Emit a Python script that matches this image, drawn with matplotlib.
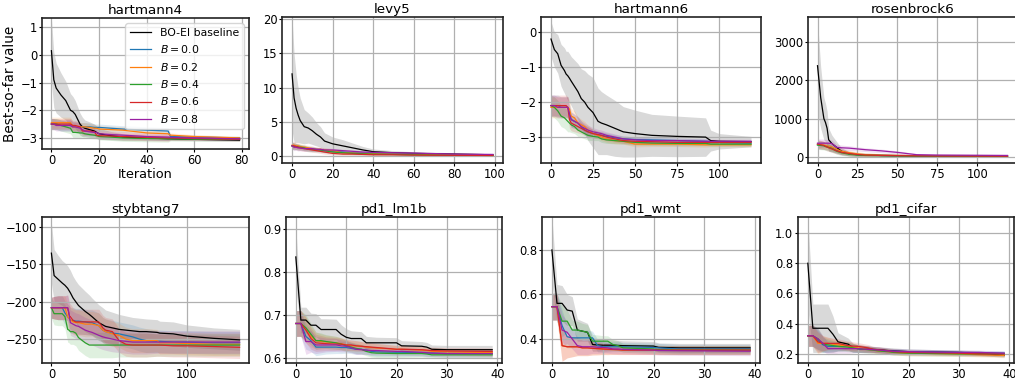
import matplotlib

matplotlib.use("Agg")
import matplotlib.pyplot as plt
import numpy as np

# --- data (mean and half-width of band at knot iterations) ---
B_LABELS = ["$B = 0.0$", "$B = 0.2$", "$B = 0.4$", "$B = 0.6$", "$B = 0.8$"]
B_COLORS = ["tab:blue", "tab:orange", "tab:green", "tab:red", "#9a1fa3"]

HARTMANN4_X = [0, 1, 2, 4, 6, 8, 9, 10, 12, 13, 14, 16, 18, 19, 20, 25, 30, 40, 49, 50, 60, 79]
HARTMANN4_BASE = [0.15, -0.9, -1.2, -1.45, -1.65, -2.0, -2.05, -2.15, -2.5, -2.6, -2.65, -2.7,
                  -2.75, -2.8, -2.85, -2.92, -2.97, -3.0, -3.03, -3.03, -3.05, -3.08]
HARTMANN4_BASE_SD = [1.15, 1.0, 0.9, 0.8, 0.7, 0.6, 0.55, 0.5, 0.4, 0.35, 0.3, 0.28, 0.25, 0.22,
                     0.2, 0.15, 0.12, 0.08, 0.06, 0.06, 0.05, 0.04]
HARTMANN4_B = [
    [-2.5, -2.5, -2.5, -2.55, -2.55, -2.55, -2.6, -2.6, -2.6, -2.6, -2.6, -2.6, -2.62, -2.62,
     -2.62, -2.65, -2.68, -2.72, -2.75, -2.95, -2.97, -3.0],
    [-2.45, -2.45, -2.45, -2.45, -2.45, -2.45, -2.6, -2.6, -2.6, -2.6, -2.6, -2.62, -2.65, -2.65,
     -2.68, -2.7, -2.72, -2.82, -2.85, -2.9, -2.95, -3.0],
    [-2.5, -2.5, -2.5, -2.55, -2.6, -2.65, -2.8, -2.8, -2.82, -2.82, -2.85, -2.88, -2.9, -2.92,
     -2.95, -2.97, -3.0, -3.02, -3.03, -3.03, -3.05, -3.05],
    [-2.5, -2.5, -2.5, -2.5, -2.5, -2.5, -2.55, -2.55, -2.6, -2.75, -2.75, -2.75, -2.78, -2.9,
     -2.92, -2.93, -2.95, -2.98, -3.0, -3.0, -3.02, -3.05],
    [-2.5, -2.5, -2.55, -2.55, -2.55, -2.55, -2.6, -2.6, -2.65, -2.7, -2.75, -2.78, -2.8, -2.8,
     -2.85, -2.88, -2.9, -2.95, -2.97, -2.98, -3.0, -3.03],
]
HARTMANN4_B_SD = [0.2, 0.2, 0.2, 0.2, 0.2, 0.2, 0.18, 0.18, 0.16, 0.15, 0.15, 0.14, 0.13, 0.12,
                  0.12, 0.12, 0.12, 0.12, 0.12, 0.08, 0.07, 0.06]

LEVY5_X = [0, 1, 2, 3, 4, 6, 8, 10, 12, 14, 16, 20, 25, 30, 35, 40, 50, 60, 80, 99]
LEVY5_BASE = [12, 8.5, 7, 6, 5.2, 4.3, 4.1, 3.7, 3.2, 2.8, 2.2, 1.8, 1.5, 1.2, 0.9, 0.65, 0.5,
              0.4, 0.3, 0.2]
LEVY5_BASE_SD = [8.3, 6.5, 5, 4, 3.3, 2.5, 2.2, 2.0, 1.7, 1.5, 1.2, 1.0, 0.9, 0.7, 0.5, 0.4,
                 0.3, 0.25, 0.2, 0.15]
LEVY5_B = [
    [1.5, 1.5, 1.4, 1.4, 1.3, 1.2, 1.1, 1.0, 1.0, 0.9, 0.8, 0.7, 0.6, 0.5, 0.45, 0.4, 0.35, 0.3, 0.2, 0.15],
    [1.6, 1.6, 1.5, 1.5, 1.4, 1.3, 1.2, 1.1, 1.0, 1.0, 0.9, 0.8, 0.5, 0.45, 0.4, 0.35, 0.3, 0.25, 0.2, 0.15],
    [1.5, 1.4, 1.4, 1.3, 1.3, 1.2, 1.0, 1.0, 0.9, 0.9, 0.8, 0.6, 0.5, 0.4, 0.35, 0.3, 0.25, 0.2, 0.15, 0.1],
    [1.5, 1.5, 1.4, 1.3, 1.2, 1.1, 1.0, 0.9, 0.8, 0.7, 0.6, 0.4, 0.3, 0.3, 0.25, 0.2, 0.2, 0.15, 0.12, 0.1],
    [1.5, 1.3, 1.3, 1.2, 1.2, 1.1, 1.1, 1.1, 1.0, 1.0, 0.9, 0.9, 0.8, 0.7, 0.6, 0.55, 0.5, 0.45, 0.3, 0.25],
]
LEVY5_B_SD = [0.5, 0.5, 0.45, 0.45, 0.4, 0.4, 0.35, 0.35, 0.3, 0.3, 0.3, 0.25, 0.2, 0.2, 0.18,
              0.15, 0.12, 0.1, 0.1, 0.08]

HARTMANN6_X = [0, 2, 4, 6, 8, 9, 10, 11, 12, 14, 16, 18, 20, 22, 25, 28, 30, 33, 38, 43, 50,
               60, 75, 92, 95, 100, 119]
HARTMANN6_BASE = [-0.2, -0.5, -0.62, -0.95, -1.1, -1.2, -1.25, -1.32, -1.4, -1.55, -1.7, -1.9,
                  -2.0, -2.15, -2.3, -2.55, -2.6, -2.65, -2.75, -2.85, -2.9, -2.95, -2.98, -3.0,
                  -3.1, -3.12, -3.13]
HARTMANN6_BASE_SD = [0.5, 0.5, 0.55, 0.6, 0.65, 0.65, 0.7, 0.7, 0.7, 0.75, 0.8, 0.85, 0.9, 0.95,
                     1.0, 0.95, 0.9, 0.85, 0.8, 0.72, 0.67, 0.6, 0.58, 0.55, 0.3, 0.22, 0.15]
HARTMANN6_B = [
    [-2.1, -2.1, -2.1, -2.15, -2.15, -2.15, -2.15, -2.3, -2.5, -2.55, -2.6, -2.7, -2.8, -2.85,
     -2.9, -2.93, -2.95, -2.98, -3.02, -3.05, -3.07, -3.08, -3.1, -3.12, -3.13, -3.15, -3.17],
    [-2.15, -2.15, -2.15, -2.15, -2.15, -2.15, -2.15, -2.2, -2.4, -2.45, -2.6, -2.65, -2.7, -2.8,
     -2.9, -2.95, -3.0, -3.05, -3.1, -3.12, -3.2, -3.2, -3.2, -3.22, -3.22, -3.22, -3.22],
    [-2.1, -2.15, -2.25, -2.4, -2.45, -2.5, -2.55, -2.6, -2.65, -2.7, -2.8, -2.85, -2.9, -2.95,
     -2.98, -3.0, -3.05, -3.08, -3.1, -3.12, -3.15, -3.17, -3.18, -3.18, -3.2, -3.2, -3.2],
    [-2.1, -2.1, -2.1, -2.1, -2.1, -2.1, -2.15, -2.5, -2.6, -2.65, -2.7, -2.75, -2.8, -2.85,
     -2.9, -2.93, -2.95, -3.0, -3.05, -3.1, -3.12, -3.13, -3.15, -3.15, -3.15, -3.15, -3.15],
    [-2.1, -2.1, -2.15, -2.15, -2.15, -2.15, -2.15, -2.35, -2.5, -2.55, -2.6, -2.7, -2.75, -2.8,
     -2.85, -2.88, -2.9, -2.95, -3.0, -3.05, -3.08, -3.1, -3.1, -3.12, -3.12, -3.12, -3.12],
]
HARTMANN6_B_SD = [0.3, 0.3, 0.3, 0.3, 0.3, 0.3, 0.3, 0.25, 0.22, 0.2, 0.18, 0.16, 0.15, 0.14,
                  0.12, 0.1, 0.1, 0.1, 0.09, 0.08, 0.08, 0.07, 0.07, 0.07, 0.06, 0.06, 0.06]

ROSENBROCK6_X = [0, 2, 4, 5, 6, 7, 9, 12, 15, 20, 25, 30, 40, 50, 62, 75, 100, 119]
ROSENBROCK6_BASE = [2380, 1550, 1000, 900, 750, 450, 350, 250, 150, 80, 60, 50, 40, 35, 30, 28, 25, 22]
ROSENBROCK6_BASE_SD = [1200, 800, 550, 500, 450, 300, 220, 150, 90, 50, 35, 25, 20, 18, 15, 12, 10, 8]
ROSENBROCK6_B = [
    [320, 310, 300, 290, 280, 260, 240, 180, 130, 90, 60, 50, 40, 35, 30, 25, 20, 18],
    [330, 320, 310, 300, 290, 280, 260, 200, 150, 110, 80, 60, 45, 40, 35, 30, 25, 20],
    [310, 300, 290, 270, 260, 250, 220, 150, 110, 70, 50, 40, 35, 30, 25, 22, 20, 18],
    [340, 320, 300, 280, 260, 240, 210, 160, 120, 90, 65, 50, 40, 35, 30, 25, 22, 20],
    [360, 360, 360, 360, 360, 360, 350, 250, 240, 230, 210, 190, 160, 120, 60, 50, 45, 40],
]
ROSENBROCK6_B_SD = [110, 110, 105, 100, 100, 95, 90, 80, 70, 60, 55, 50, 45, 40, 30, 25, 20, 15]

STYBTANG7_X = [0, 2, 5, 8, 10, 12, 13, 14, 16, 18, 20, 25, 28, 30, 35, 38, 40, 45, 50, 55, 60,
               65, 70, 78, 80, 90, 100, 120, 139]
STYBTANG7_BASE = [-135, -165, -170, -175, -178, -182, -185, -188, -195, -200, -205, -213, -217,
                  -220, -228, -231, -233, -235, -237, -238, -239, -240, -240, -241, -242, -243,
                  -246, -249, -251]
STYBTANG7_BASE_SD = [40, 35, 32, 30, 30, 30, 30, 30, 29, 28, 28, 27, 26, 25, 24, 23, 22, 21, 20,
                     19, 18, 18, 17, 17, 16, 16, 15, 14, 14]
STYBTANG7_B = [
    [-208, -208, -208, -208, -215, -220, -222, -225, -225, -226, -226, -227, -228, -228, -232,
     -238, -240, -242, -243, -245, -247, -250, -252, -253, -253, -254, -254, -255, -255],
    [-208, -208, -208, -208, -208, -220, -222, -224, -227, -228, -228, -230, -230, -230, -232,
     -238, -240, -243, -245, -250, -252, -252, -252, -252, -255, -255, -256, -257, -257],
    [-208, -216, -216, -216, -220, -237, -238, -240, -240, -242, -248, -255, -258, -258, -258,
     -258, -258, -258, -258, -258, -258, -258, -258, -258, -258, -258, -258, -258, -258],
    [-208, -208, -208, -208, -208, -208, -218, -220, -225, -227, -227, -227, -227, -227, -227,
     -235, -238, -240, -252, -257, -258, -258, -258, -258, -258, -259, -259, -260, -261],
    [-208, -208, -208, -208, -208, -208, -215, -228, -230, -232, -233, -238, -240, -241, -245,
     -247, -248, -250, -252, -253, -254, -254, -254, -254, -254, -254, -254, -254, -254],
]
STYBTANG7_B_SD = [14, 15, 16, 16, 16, 17, 17, 17, 17, 17, 17, 17, 17, 17, 17, 17, 17, 17, 16,
                  16, 16, 16, 16, 15, 15, 15, 15, 15, 15]

LM1B_X = [0, 1, 2, 3, 4, 5, 6, 8, 9, 10, 11, 12, 13, 14, 15, 16, 20, 21, 25, 26, 27, 30, 39]
LM1B_BASE = [0.835, 0.688, 0.688, 0.676, 0.676, 0.666, 0.666, 0.666, 0.655, 0.648, 0.645, 0.645,
             0.645, 0.635, 0.635, 0.635, 0.635, 0.628, 0.627, 0.625, 0.62, 0.619, 0.619]
LM1B_BASE_SD = [0.07, 0.03, 0.03, 0.028, 0.027, 0.025, 0.025, 0.024, 0.022, 0.02, 0.018, 0.017,
                0.016, 0.015, 0.014, 0.013, 0.012, 0.012, 0.011, 0.011, 0.01, 0.01, 0.01]
LM1B_B = [
    [0.68, 0.68, 0.65, 0.64, 0.625, 0.625, 0.625, 0.625, 0.624, 0.624, 0.622, 0.62, 0.62, 0.618,
     0.615, 0.614, 0.613, 0.613, 0.612, 0.611, 0.611, 0.61, 0.61],
    [0.68, 0.68, 0.665, 0.65, 0.64, 0.638, 0.637, 0.635, 0.633, 0.63, 0.628, 0.628, 0.627, 0.625,
     0.624, 0.623, 0.62, 0.62, 0.618, 0.617, 0.615, 0.614, 0.612],
    [0.68, 0.68, 0.67, 0.655, 0.64, 0.64, 0.638, 0.635, 0.632, 0.628, 0.625, 0.622, 0.62, 0.615,
     0.612, 0.611, 0.61, 0.61, 0.61, 0.609, 0.607, 0.607, 0.607],
    [0.68, 0.68, 0.665, 0.645, 0.635, 0.634, 0.633, 0.632, 0.632, 0.63, 0.63, 0.628, 0.627, 0.626,
     0.625, 0.624, 0.62, 0.62, 0.619, 0.618, 0.617, 0.616, 0.615],
    [0.68, 0.68, 0.638, 0.638, 0.63, 0.63, 0.63, 0.63, 0.628, 0.627, 0.624, 0.62, 0.619, 0.618,
     0.617, 0.617, 0.615, 0.615, 0.613, 0.612, 0.611, 0.61, 0.61],
]
LM1B_B_SD = [0.03, 0.03, 0.03, 0.025, 0.02, 0.018, 0.016, 0.015, 0.014, 0.013, 0.012, 0.012,
             0.011, 0.01, 0.01, 0.01, 0.009, 0.009, 0.008, 0.008, 0.008, 0.008, 0.008]

WMT_X = [0, 1, 2, 3, 4, 5, 6, 7, 8, 9, 10, 11, 12, 13, 14, 20, 21, 25, 39]
WMT_BASE = [0.80, 0.56, 0.56, 0.53, 0.525, 0.44, 0.435, 0.43, 0.375, 0.373, 0.372, 0.372, 0.372,
            0.371, 0.37, 0.368, 0.362, 0.36, 0.36]
WMT_BASE_SD = [0.15, 0.085, 0.08, 0.07, 0.065, 0.05, 0.045, 0.04, 0.03, 0.028, 0.026, 0.025,
               0.024, 0.023, 0.022, 0.021, 0.02, 0.02, 0.02]
WMT_B = [
    [0.545, 0.545, 0.46, 0.41, 0.405, 0.405, 0.405, 0.405, 0.405, 0.37, 0.365, 0.365, 0.365,
     0.365, 0.365, 0.362, 0.36, 0.355, 0.355],
    [0.545, 0.545, 0.37, 0.365, 0.365, 0.365, 0.36, 0.36, 0.358, 0.356, 0.355, 0.353, 0.352,
     0.352, 0.35, 0.35, 0.35, 0.35, 0.35],
    [0.545, 0.545, 0.48, 0.48, 0.44, 0.44, 0.435, 0.43, 0.39, 0.39, 0.39, 0.39, 0.375, 0.37,
     0.36, 0.355, 0.352, 0.35, 0.35],
    [0.545, 0.545, 0.37, 0.365, 0.365, 0.365, 0.36, 0.36, 0.358, 0.357, 0.355, 0.354, 0.353,
     0.352, 0.35, 0.35, 0.35, 0.35, 0.35],
    [0.545, 0.545, 0.44, 0.43, 0.40, 0.37, 0.365, 0.365, 0.365, 0.363, 0.362, 0.36, 0.355,
     0.355, 0.353, 0.35, 0.348, 0.347, 0.345],
]
WMT_B_SD = [0.06, 0.06, 0.07, 0.05, 0.045, 0.04, 0.035, 0.035, 0.03, 0.028, 0.025, 0.024, 0.022,
            0.022, 0.02, 0.02, 0.02, 0.02, 0.02]

CIFAR_X = [0, 1, 2, 3, 4, 5, 6, 8, 9, 10, 12, 13, 14, 16, 17, 20, 30, 34, 39]
CIFAR_BASE = [0.80, 0.37, 0.37, 0.37, 0.37, 0.33, 0.28, 0.265, 0.24, 0.235, 0.232, 0.23, 0.228,
              0.222, 0.22, 0.215, 0.21, 0.205, 0.19]
CIFAR_BASE_SD = [0.3, 0.16, 0.16, 0.16, 0.16, 0.12, 0.06, 0.04, 0.03, 0.025, 0.022, 0.02, 0.02,
                 0.02, 0.02, 0.018, 0.015, 0.015, 0.012]
CIFAR_B = [
    [0.32, 0.32, 0.29, 0.26, 0.25, 0.25, 0.25, 0.25, 0.24, 0.235, 0.23, 0.228, 0.225, 0.22,
     0.218, 0.215, 0.21, 0.208, 0.205],
    [0.32, 0.32, 0.27, 0.27, 0.27, 0.265, 0.26, 0.25, 0.245, 0.24, 0.23, 0.225, 0.22, 0.215,
     0.21, 0.205, 0.2, 0.195, 0.19],
    [0.32, 0.32, 0.30, 0.265, 0.26, 0.255, 0.25, 0.245, 0.24, 0.235, 0.228, 0.225, 0.22, 0.215,
     0.21, 0.205, 0.2, 0.2, 0.2],
    [0.32, 0.32, 0.28, 0.27, 0.27, 0.27, 0.27, 0.255, 0.252, 0.25, 0.24, 0.23, 0.228, 0.22,
     0.215, 0.21, 0.205, 0.2, 0.2],
    [0.32, 0.32, 0.30, 0.27, 0.235, 0.235, 0.235, 0.235, 0.235, 0.235, 0.23, 0.228, 0.226, 0.22,
     0.218, 0.215, 0.21, 0.21, 0.205],
]
CIFAR_B_SD = [0.07, 0.07, 0.07, 0.05, 0.04, 0.035, 0.03, 0.03, 0.028, 0.025, 0.022, 0.02, 0.02,
              0.018, 0.018, 0.017, 0.016, 0.015, 0.015]

# title, data, ylim, axes box in pixels (left, right, top, bottom)
PANELS = [
    ("hartmann4", HARTMANN4_X, HARTMANN4_BASE, HARTMANN4_BASE_SD, HARTMANN4_B, HARTMANN4_B_SD,
     (-3.4, 1.33), (42, 249, 18, 149)),
    ("levy5", LEVY5_X, LEVY5_BASE, LEVY5_BASE_SD, LEVY5_B, LEVY5_B_SD,
     (-1.0, 20.3), (282, 503, 17, 163)),
    ("hartmann6", HARTMANN6_X, HARTMANN6_BASE, HARTMANN6_BASE_SD, HARTMANN6_B, HARTMANN6_B_SD,
     (-3.74, 0.43), (541, 761, 17, 163)),
    ("rosenbrock6", ROSENBROCK6_X, ROSENBROCK6_BASE, ROSENBROCK6_BASE_SD, ROSENBROCK6_B,
     ROSENBROCK6_B_SD, (-157, 3650), (808, 1017, 17, 163)),
    ("stybtang7", STYBTANG7_X, STYBTANG7_BASE, STYBTANG7_BASE_SD, STYBTANG7_B, STYBTANG7_B_SD,
     (-282, -86.6), (42, 249, 217, 363)),
    ("pd1_lm1b", LM1B_X, LM1B_BASE, LM1B_BASE_SD, LM1B_B, LM1B_B_SD,
     (0.588, 0.928), (286, 502, 217, 363)),
    ("pd1_wmt", WMT_X, WMT_BASE, WMT_BASE_SD, WMT_B, WMT_B_SD,
     (0.292, 0.948), (542, 760, 217, 363)),
    ("pd1_cifar", CIFAR_X, CIFAR_BASE, CIFAR_BASE_SD, CIFAR_B, CIFAR_B_SD,
     (0.14, 1.106), (798, 1014, 217, 363)),
]

W, H = 1015, 386
fig = plt.figure(figsize=(W / 100, H / 100), dpi=100)

for i, (title, x, base, base_sd, bvals, b_sd, ylim, box) in enumerate(PANELS):
    l, r, t, b = box
    ax = fig.add_axes([l / W, (H - b) / H, (r - l) / W, (b - t) / H])
    x = np.array(x)
    m = np.array(base)
    s = np.array(base_sd)
    ax.plot(x, m, color="black", lw=0.9, label="BO-EI baseline")
    ax.fill_between(x, m - s, m + s, color="black", alpha=0.15, lw=0)
    for vals, col, lab in zip(bvals, B_COLORS, B_LABELS):
        v = np.array(vals)
        sd = np.array(b_sd)
        ax.plot(x, v, color=col, lw=0.9, label=lab)
        ax.fill_between(x, v - sd, v + sd, color=col, alpha=0.15, lw=0)
    ax.set_ylim(*ylim)
    ax.set_title(title, fontsize=9.7, pad=3)
    ax.grid(True, color="#b0b0b0", lw=0.9)
    ax.tick_params(labelsize=8.3, length=2.2, width=0.8, pad=1.2)
    for sp in ax.spines.values():
        sp.set_linewidth(1.2)
        sp.set_color("#222222")
    if i == 0:
        ax.set_ylabel("Best-so-far value", fontsize=9.8, labelpad=2)
        ax.set_xlabel("Iteration", fontsize=9.3, labelpad=1)
        ax.legend(loc="upper right", fontsize=7.8, framealpha=0.8, handlelength=2.0)

fig.savefig("out.png", dpi=100, facecolor="white")
